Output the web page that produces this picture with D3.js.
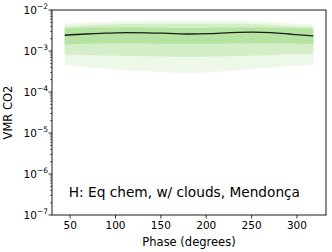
<!DOCTYPE html>
<html>
<head>
<meta charset="utf-8">
<script src="https://cdn.jsdelivr.net/npm/d3@7"></script>
<style>
  body { margin: 0; background: #fff; }
  text { font-family: "DejaVu Sans", sans-serif; }
</style>
</head>
<body>
<div class="chart"></div>
<script>
// phases (degrees) and retrieved CO2 VMR percentiles
var phases = [44, 67, 90, 112, 135, 158, 181, 204, 227, 250, 272, 295, 318];
var median = [2.42e-3, 2.6e-3, 2.72e-3, 2.8e-3, 2.78e-3, 2.7e-3, 2.6e-3, 2.65e-3, 2.8e-3, 2.88e-3, 2.8e-3, 2.55e-3, 2.33e-3];
var hi1 = [3.6e-3, 3.7e-3, 3.75e-3, 3.8e-3, 3.75e-3, 3.7e-3, 3.65e-3, 3.7e-3, 3.75e-3, 3.75e-3, 3.7e-3, 3.6e-3, 3.5e-3];
var lo1 = [1.45e-3, 1.5e-3, 1.55e-3, 1.55e-3, 1.52e-3, 1.5e-3, 1.5e-3, 1.5e-3, 1.52e-3, 1.55e-3, 1.55e-3, 1.53e-3, 1.5e-3];
var hi2 = [4.05e-3, 4.25e-3, 4.4e-3, 4.55e-3, 4.65e-3, 4.65e-3, 4.6e-3, 4.6e-3, 4.6e-3, 4.5e-3, 4.3e-3, 4.05e-3, 3.85e-3];
var lo2 = [8.2e-4, 8.0e-4, 7.8e-4, 7.6e-4, 7.4e-4, 7.2e-4, 7.1e-4, 7.2e-4, 7.4e-4, 7.7e-4, 8.0e-4, 8.3e-4, 8.5e-4];
var hi3 = [4.67e-3, 4.9e-3, 5.1e-3, 5.3e-3, 5.4e-3, 5.5e-3, 5.5e-3, 5.45e-3, 5.4e-3, 5.3e-3, 5.0e-3, 4.7e-3, 4.4e-3];
var lo3 = [4.5e-4, 4.1e-4, 3.7e-4, 3.4e-4, 3.15e-4, 3.0e-4, 2.95e-4, 3.05e-4, 3.3e-4, 3.6e-4, 3.95e-4, 4.3e-4, 4.5e-4];
var xTicks = [50, 100, 150, 200, 250, 300];
var yExps = [-7, -6, -5, -4, -3, -2];
var label = "H: Eq chem, w/ clouds, Mendonça";

var margin = {top: 10, right: 6, bottom: 37, left: 52},
    width = 332 - margin.left - margin.right,
    height = 252 - margin.top - margin.bottom;

var svg = d3.select(".chart")
  .append("svg")
    .attr("width", 332)
    .attr("height", 252)
  .append("g")
    .attr("transform", "translate(" + margin.left + "," + margin.top + ")");

var x = d3.scaleLinear().domain([30, 332]).range([0, width]);
var y = d3.scaleLog().domain([1e-7, 1e-2]).range([height, 0]);

var bands = [
  {lo: lo3, hi: hi3, color: "#eef8e9"},
  {lo: lo2, hi: hi2, color: "#d4efc8"},
  {lo: lo1, hi: hi1, color: "#b5e4a2"}
];

bands.forEach(function(b) {
  svg.append("path")
    .datum(phases)
    .attr("fill", b.color)
    .attr("d", d3.area()
      .curve(d3.curveMonotoneX)
      .x(function(d) { return x(d); })
      .y0(function(d, i) { return y(b.lo[i]); })
      .y1(function(d, i) { return y(b.hi[i]); }));
});

svg.append("path")
  .datum(phases)
  .attr("fill", "none")
  .attr("stroke", "#1a1a1a")
  .attr("stroke-width", 1.3)
  .attr("d", d3.line()
    .curve(d3.curveMonotoneX)
    .x(function(d) { return x(d); })
    .y(function(d, i) { return y(median[i]); }));

// frame
svg.append("rect")
  .attr("width", width)
  .attr("height", height)
  .attr("fill", "none")
  .attr("stroke", "#000")
  .attr("stroke-width", 0.9);

// x axis
var xa = svg.append("g").attr("transform", "translate(0," + height + ")");
xTicks.forEach(function(t) {
  xa.append("line").attr("x1", x(t)).attr("x2", x(t)).attr("y1", 0).attr("y2", 3.5)
    .attr("stroke", "#000").attr("stroke-width", 0.8);
  xa.append("text").attr("x", x(t)).attr("y", 14).attr("text-anchor", "middle")
    .attr("font-size", 10.5).text(t);
});
svg.append("text")
  .attr("x", width / 2).attr("y", height + 31)
  .attr("text-anchor", "middle").attr("font-size", 11.5)
  .text("Phase (degrees)");

// y axis (log, with minor ticks)
var ya = svg.append("g");
yExps.forEach(function(e) {
  var v = Math.pow(10, e);
  ya.append("line").attr("x1", -3.5).attr("x2", 0).attr("y1", y(v)).attr("y2", y(v))
    .attr("stroke", "#000").attr("stroke-width", 0.8);
  var t = ya.append("text").attr("x", -4).attr("y", y(v) + 4)
    .attr("text-anchor", "end").attr("font-size", 10.5);
  t.append("tspan").text("10");
  t.append("tspan").attr("dy", -5).attr("font-size", 7.5).text("\u2212" + (-e));
  if (e < -2) {
    for (var k = 2; k <= 9; k++) {
      ya.append("line").attr("x1", -2).attr("x2", 0)
        .attr("y1", y(k * v)).attr("y2", y(k * v))
        .attr("stroke", "#000").attr("stroke-width", 0.6);
    }
  }
});
svg.append("text")
  .attr("transform", "translate(-40," + (height / 2) + ") rotate(-90)")
  .attr("text-anchor", "middle").attr("font-size", 11.5)
  .text("VMR CO2");

svg.append("text")
  .attr("x", x(48.5)).attr("y", height - 18)
  .attr("font-size", 13.7)
  .text(label);
</script>
</body>
</html>
